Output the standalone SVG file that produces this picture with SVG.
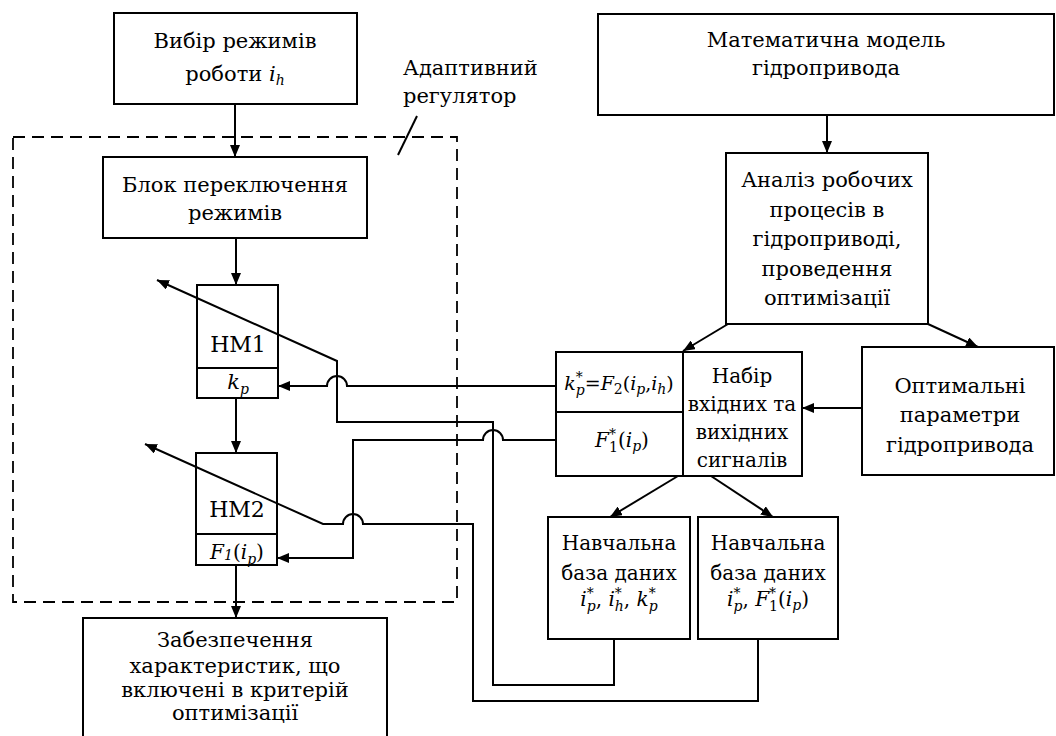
<svg xmlns="http://www.w3.org/2000/svg" width="1056" height="736" viewBox="0 0 1056 736">
<style>
.box{fill:#fff;stroke:#000;stroke-width:2}
.ln{fill:none;stroke:#000;stroke-width:2}
.dash{fill:none;stroke:#000;stroke-width:1.8;stroke-dasharray:12 7}
.i{font-style:italic}
.s{font-size:14px}
</style>
<defs>
<marker id="ah" viewBox="0 0 12 10" refX="12" refY="5" markerWidth="12" markerHeight="10" markerUnits="userSpaceOnUse" orient="auto">
<path d="M0,0 L12,5 L0,10 z" fill="#000"/>
</marker>
</defs>
<rect width="1056" height="736" fill="#fff"/>

<g id="regulator">
<rect class="dash" x="13" y="137" width="444" height="465"/>
<line class="ln" x1="398" y1="155" x2="417" y2="116" stroke-width="1.6"/>
<text font-family="DejaVu Serif" font-size="21" x="403" y="75">Адаптивний</text>
<text font-family="DejaVu Serif" font-size="21" x="403" y="103">регулятор</text>
</g>

<g id="mode-select">
<rect class="box" x="114" y="13" width="243" height="91"/>
<text font-family="DejaVu Serif" font-size="21" text-anchor="middle" x="235" y="48">Вибір режимів</text>
<text font-family="DejaVu Serif" font-size="21" text-anchor="middle" x="235" y="81">роботи <tspan class="i">i</tspan><tspan class="i s" dy="4">h</tspan></text>
</g>

<g id="switch-block">
<rect class="box" x="103" y="157" width="264" height="81"/>
<text font-family="DejaVu Serif" font-size="21" text-anchor="middle" x="235" y="192">Блок переключення</text>
<text font-family="DejaVu Serif" font-size="21" text-anchor="middle" x="235" y="220">режимів</text>
</g>

<g id="nm1">
<rect class="box" x="197" y="285" width="81" height="113"/>
<line class="ln" x1="197" y1="368" x2="278" y2="368"/>
<text font-family="DejaVu Serif" font-size="22" text-anchor="middle" x="238" y="352">НМ1</text>
<text font-family="DejaVu Serif" font-size="21" text-anchor="middle" x="238" y="389"><tspan class="i">k</tspan><tspan class="i s" dy="5">p</tspan></text>
</g>

<g id="nm2">
<rect class="box" x="196" y="453" width="81" height="112"/>
<line class="ln" x1="196" y1="534" x2="277" y2="534"/>
<text font-family="DejaVu Serif" font-size="22" text-anchor="middle" x="237" y="517">НМ2</text>
<text font-family="DejaVu Serif" font-size="20" text-anchor="middle" x="237" y="559"><tspan class="i">F</tspan><tspan class="i s" dy="1">1</tspan><tspan dy="-1">(</tspan><tspan class="i">i</tspan><tspan class="i s" dy="5">p</tspan><tspan dy="-5">)</tspan></text>
</g>

<g id="ensure">
<rect class="box" x="83" y="618" width="304" height="125"/>
<text font-family="DejaVu Serif" font-size="21" text-anchor="middle" x="235" y="647">Забезпечення</text>
<text font-family="DejaVu Serif" font-size="21" text-anchor="middle" x="235" y="673">характеристик, що</text>
<text font-family="DejaVu Serif" font-size="21" text-anchor="middle" x="235" y="697">включені в критерій</text>
<text font-family="DejaVu Serif" font-size="21" text-anchor="middle" x="235" y="720">оптимізації</text>
</g>

<g id="math-model">
<rect class="box" x="598" y="14" width="456" height="101"/>
<text font-family="DejaVu Serif" font-size="21" text-anchor="middle" x="826" y="47">Математична модель</text>
<text font-family="DejaVu Serif" font-size="21" text-anchor="middle" x="826" y="75">гідропривода</text>
</g>

<g id="analysis">
<rect class="box" x="726" y="153" width="202" height="171"/>
<text font-family="DejaVu Serif" font-size="21" text-anchor="middle" x="827" y="187">Аналіз робочих</text>
<text font-family="DejaVu Serif" font-size="21" text-anchor="middle" x="827" y="217">процесів в</text>
<text font-family="DejaVu Serif" font-size="21" text-anchor="middle" x="827" y="246">гідроприводі,</text>
<text font-family="DejaVu Serif" font-size="21" text-anchor="middle" x="827" y="276">проведення</text>
<text font-family="DejaVu Serif" font-size="21" text-anchor="middle" x="827" y="305">оптимізації</text>
</g>

<g id="signals">
<rect class="box" x="556" y="352" width="246" height="124"/>
<line class="ln" x1="683" y1="352" x2="683" y2="476"/>
<line class="ln" x1="556" y1="412" x2="683" y2="412"/>
<text font-family="DejaVu Serif" font-size="19" text-anchor="middle" x="619" y="390"><tspan class="i">k</tspan><tspan class="s" dy="-8">*</tspan><tspan class="i s" dx="-7" dy="13">p</tspan><tspan dy="-5">=</tspan><tspan class="i">F</tspan><tspan class="s" dy="4">2</tspan><tspan dy="-4">(</tspan><tspan class="i">i</tspan><tspan class="i s" dy="4">p</tspan><tspan dy="-4">,</tspan><tspan class="i">i</tspan><tspan class="i s" dy="4">h</tspan><tspan dy="-4">)</tspan></text>
<text font-family="DejaVu Serif" font-size="20" text-anchor="middle" x="622" y="447"><tspan class="i">F</tspan><tspan class="s" dy="-8">*</tspan><tspan class="s" dx="-7" dy="13">1</tspan><tspan dy="-5">(</tspan><tspan class="i">i</tspan><tspan class="i s" dy="4">p</tspan><tspan dy="-4">)</tspan></text>
<text font-family="DejaVu Serif" font-size="20" text-anchor="middle" x="742" y="383">Набір</text>
<text font-family="DejaVu Serif" font-size="20" text-anchor="middle" x="742" y="411">вхідних та</text>
<text font-family="DejaVu Serif" font-size="20" text-anchor="middle" x="742" y="439">вихідних</text>
<text font-family="DejaVu Serif" font-size="20" text-anchor="middle" x="742" y="467">сигналів</text>
</g>

<g id="optimal">
<rect class="box" x="862" y="347" width="192" height="128"/>
<text font-family="DejaVu Serif" font-size="21" text-anchor="middle" x="960" y="393">Оптимальні</text>
<text font-family="DejaVu Serif" font-size="21" text-anchor="middle" x="960" y="422">параметри</text>
<text font-family="DejaVu Serif" font-size="21" text-anchor="middle" x="960" y="452">гідропривода</text>
</g>

<g id="db1">
<rect class="box" x="548" y="517" width="142" height="122"/>
<text font-family="DejaVu Serif" font-size="20" text-anchor="middle" x="619" y="550">Навчальна</text>
<text font-family="DejaVu Serif" font-size="20" text-anchor="middle" x="619" y="580">база даних</text>
<text font-family="DejaVu Serif" font-size="20" text-anchor="middle" x="619" y="606"><tspan class="i">i</tspan><tspan class="s" dy="-8">*</tspan><tspan class="i s" dx="-7" dy="13">p</tspan><tspan dy="-5">, </tspan><tspan class="i">i</tspan><tspan class="s" dy="-8">*</tspan><tspan class="i s" dx="-7" dy="13">h</tspan><tspan dy="-5">, </tspan><tspan class="i">k</tspan><tspan class="s" dy="-8">*</tspan><tspan class="i s" dx="-7" dy="13">p</tspan></text>
</g>

<g id="db2">
<rect class="box" x="698" y="517" width="140" height="122"/>
<text font-family="DejaVu Serif" font-size="20" text-anchor="middle" x="768" y="550">Навчальна</text>
<text font-family="DejaVu Serif" font-size="20" text-anchor="middle" x="768" y="580">база даних</text>
<text font-family="DejaVu Serif" font-size="20" text-anchor="middle" x="768" y="606"><tspan class="i">i</tspan><tspan class="s" dy="-8">*</tspan><tspan class="i s" dx="-7" dy="13">p</tspan><tspan dy="-5">, </tspan><tspan class="i">F</tspan><tspan class="s" dy="-8">*</tspan><tspan class="s" dx="-7" dy="13">1</tspan><tspan dy="-5">(</tspan><tspan class="i">i</tspan><tspan class="i s" dy="4">p</tspan><tspan dy="-4">)</tspan></text>
</g>

<g id="connectors">
<path class="ln" d="M235,104 V157" marker-end="url(#ah)"/>
<path class="ln" d="M236,238 V285" marker-end="url(#ah)"/>
<path class="ln" d="M236,398 V453" marker-end="url(#ah)"/>
<path class="ln" d="M236,565 V618" marker-end="url(#ah)"/>
<path class="ln" d="M556,386 H347 A10,10 0 0 0 327,386 H278" marker-end="url(#ah)"/>
<path class="ln" d="M614,639 V685 H493 V422 H337 V361 L157,280" marker-end="url(#ah)"/>
<path class="ln" d="M556,440 H503 A10,10 0 0 0 483,440 H353 V558 H277" marker-end="url(#ah)"/>
<path class="ln" d="M758,639 V701 H473 V524 H363 A10,10 0 0 0 343,524 H323 L145,444" marker-end="url(#ah)"/>
<path class="ln" d="M827,115 V153" marker-end="url(#ah)"/>
<path class="ln" d="M728,324 L683,351" marker-end="url(#ah)"/>
<path class="ln" d="M928,324 L978,347" marker-end="url(#ah)"/>
<path class="ln" d="M862,408 H802" marker-end="url(#ah)"/>
<path class="ln" d="M678,476 L610,517" marker-end="url(#ah)"/>
<path class="ln" d="M711,476 L773,517" marker-end="url(#ah)"/>
</g>
</svg>
